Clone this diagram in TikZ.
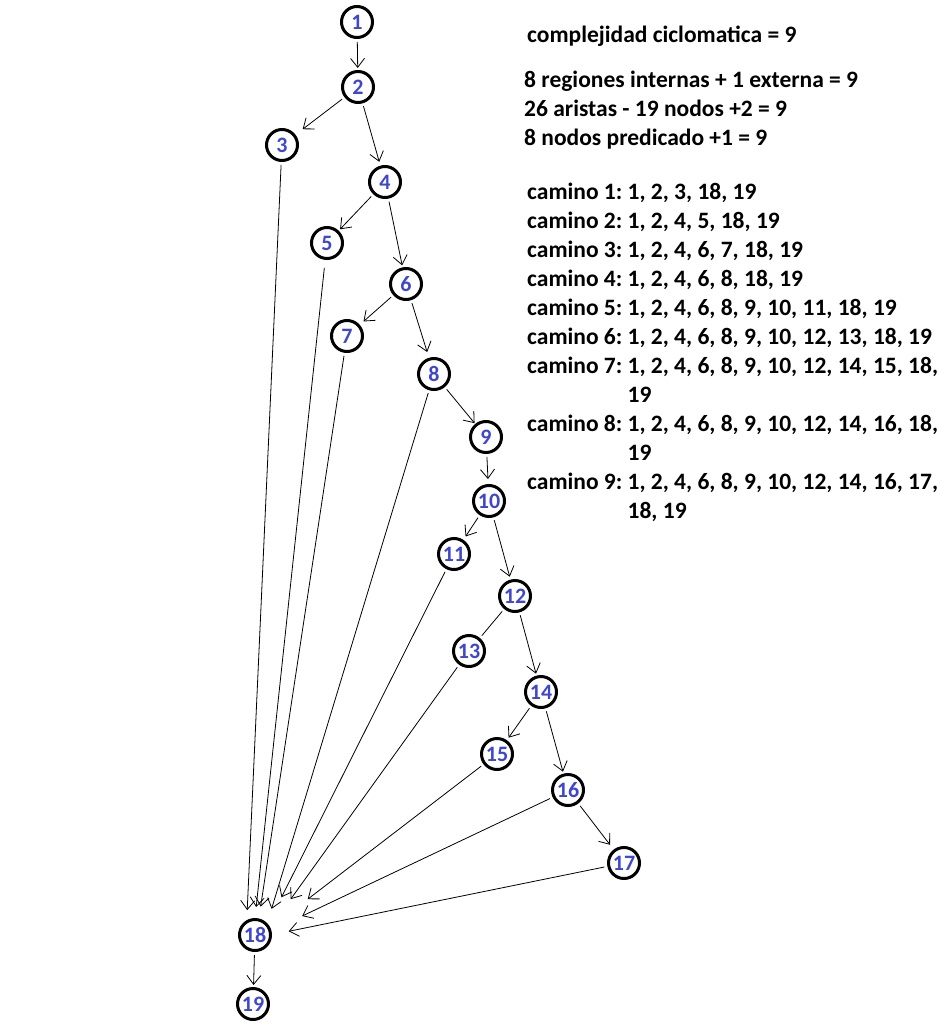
\documentclass[tikz,border=0pt]{standalone}
\usepackage{fontspec}
\setmainfont{Carlito}
\usepackage{xcolor}
\usetikzlibrary{arrows.meta}
\definecolor{paintblue}{RGB}{63,72,204}

\begin{document}
\begin{tikzpicture}[
    x=1pt, y=-1pt,
    nodo/.style={circle, draw, line width=3pt, minimum size=31pt, inner sep=0pt, text=paintblue, font=\fontsize{22}{24}\selectfont\bfseries},
    arr/.style={-{Straight Barb[length=9pt, width=14pt]}, line width=0.8pt, shorten <=3pt, shorten >=4pt},
    lin/.style={line width=0.8pt, shorten <=3pt, shorten >=3pt},
    txt/.style={anchor=base west, inner sep=0pt, font=\fontsize{23.5}{29}\selectfont\bfseries}
  ]
  \useasboundingbox (0,0) rectangle (950,1030);
  % Nodes
  \node[nodo] (n1) at (357,22) {1};
  \node[nodo] (n2) at (358,87) {2};
  \node[nodo] (n3) at (282,145) {3};
  \node[nodo] (n4) at (385,182) {4};
  \node[nodo] (n5) at (327,243) {5};
  \node[nodo] (n6) at (406,284) {6};
  \node[nodo] (n7) at (347,336) {7};
  \node[nodo] (n8) at (434,374) {8};
  \node[nodo] (n9) at (486,437) {9};
  \node[nodo] (n10) at (489,501) {10};
  \node[nodo] (n11) at (454,554) {11};
  \node[nodo] (n12) at (515,596) {12};
  \node[nodo] (n13) at (469,651) {13};
  \node[nodo] (n14) at (541,692) {14};
  \node[nodo] (n15) at (497,754) {15};
  \node[nodo] (n16) at (568,790) {16};
  \node[nodo] (n17) at (624,863) {17};
  \node[nodo] (n18) at (255,935) {18};
  \node[nodo] (n19) at (253,1004) {19};

  % Edges
  \draw[arr, shorten >=2pt] (n1) -- (n2);
  \draw[arr, shorten >=9pt] (n2) -- (n3);
  \draw[arr] (n2) -- (n4);
  \draw[arr, shorten >=2pt] (n4) -- (n5);
  \draw[arr, shorten >=2pt] (n4) -- (n6);
  \draw[arr, shorten >=5pt] (n6) -- (n7);
  \draw[arr, shorten >=6pt] (n6) -- (n8);
  \draw[arr, shorten >=1pt] (n8) -- (n9);
  \draw[arr, shorten >=5pt] (n9) -- (n10);
  \draw[arr] (n10) -- (n11);
  \draw[arr, shorten >=3pt] (n10) -- (n12);
  \draw[lin] (n12) -- (n13);
  \draw[arr, shorten >=2pt] (n12) -- (n14);
  \draw[arr, shorten >=3pt] (n14) -- (n15);
  \draw[arr, shorten >=2pt] (n14) -- (n16);
  \draw[arr, shorten >=6pt] (n16) -- (n17);
  \draw[arr, shorten >=2pt] (n18) -- (n19);

  % Edges into 18
  \draw[arr, shorten >=10pt] (n3) -- (n18.119);
  \draw[arr, shorten >=11pt, shorten <=8pt] (n5) -- (n18.90);
  \draw[arr, shorten >=12pt] (n7) -- (n18.77);
  \draw[arr, shorten >=15pt] (n8) -- (n18.44);
  \draw[arr, shorten >=30pt] (n11) -- (n18.40);
  \draw[arr, shorten >=35pt] (n13) -- (n18.26);
  \draw[arr, shorten >=47pt] (n15) -- (n18.25);
  \draw[arr, shorten >=34pt] (n16) -- (n18.15);
  \draw[arr, shorten >=17pt] (n17) -- (n18.1);

  % Text
  \node[txt] (cc) at (527,43) {complejidad ciclomatica = 9};
  \node[txt] (f1) at (524,88) {8 regiones internas + 1 externa = 9};
  \node[txt] (f2) at (524,117) {26 aristas - 19 nodos +2 = 9};
  \node[txt] (f3) at (524,146) {8 nodos predicado +1 = 9};
  \node[txt] (caminos) at (527,199) {%
    \begin{tabular}[t]{@{}l@{\ }l@{}}
      camino 1: & 1, 2, 3, 18, 19\\
      camino 2: & 1, 2, 4, 5, 18, 19\\
      camino 3: & 1, 2, 4, 6, 7, 18, 19\\
      camino 4: & 1, 2, 4, 6, 8, 18, 19\\
      camino 5: & 1, 2, 4, 6, 8, 9, 10, 11, 18, 19\\
      camino 6: & 1, 2, 4, 6, 8, 9, 10, 12, 13, 18, 19\\
      camino 7: & 1, 2, 4, 6, 8, 9, 10, 12, 14, 15, 18,\\
                & 19\\
      camino 8: & 1, 2, 4, 6, 8, 9, 10, 12, 14, 16, 18,\\
                & 19\\
      camino 9: & 1, 2, 4, 6, 8, 9, 10, 12, 14, 16, 17,\\
                & 18, 19
    \end{tabular}};
\end{tikzpicture}
\end{document}
